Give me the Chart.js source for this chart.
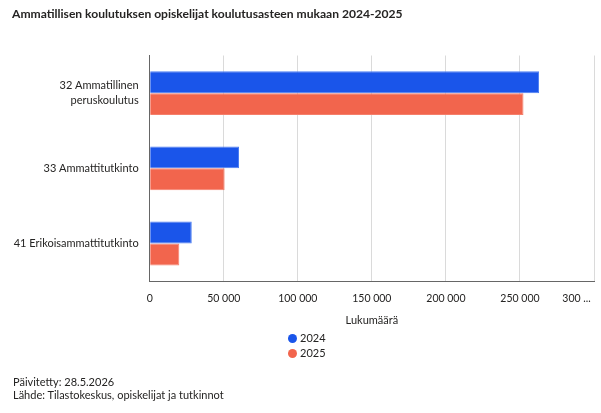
<!DOCTYPE html>
<html>
<head>
<meta charset="utf-8">
<script src="https://cdn.jsdelivr.net/npm/chart.js@4.4.1/dist/chart.umd.min.js"></script>
<style>
  html, body { margin: 0; padding: 0; background: #fff; }
  #wrap { position: relative; width: 601px; height: 413px; overflow: hidden; font-family: Lato, sans-serif; }
  canvas { position: absolute; left: 0; top: 0; }
  .leg { position: absolute; left: 288px; font-size: 11px; color: #252423; line-height: 14px; }
  .leg span.dot { display: inline-block; width: 9px; height: 9px; border-radius: 50%; vertical-align: -1px; margin-right: 3px; }
  #footer { position: absolute; left: 13px; top: 376px; font-size: 11px; color: #252423; line-height: 12.5px; }
</style>
</head>
<body>
<div id="wrap">
  <canvas id="c" width="601" height="413"></canvas>
  <div id="legend"></div>
  <div id="footer"></div>
</div>
<script>
const titleText = "Ammatillisen koulutuksen opiskelijat koulutusasteen mukaan 2024-2025";
const categories = [["32 Ammatillinen", "peruskoulutus"], "33 Ammattitutkinto", "41 Erikoisammattitutkinto"];
const seriesNames = ["2024", "2025"];
const values2024 = [262900, 60300, 28400];
const values2025 = [252400, 50600, 20000];
const xTickValues = [0, 50000, 100000, 150000, 200000, 250000, 300000];
const xTickLabels = ["0", "50 000", "100 000", "150 000", "200 000", "250 000", "300 ..."];
const xAxisTitle = "Lukumäärä";
const footerLines = ["Päivitetty: 28.5.2026", "Lähde: Tilastokeskus, opiskelijat ja tutkinnot"];

const colors = ["#1A55EA", "#F2654D"];
const borders = ["#4C7EF2", "#F57F6B"];
const FONT = 'Lato, sans-serif';

const chart = new Chart(document.getElementById('c'), {
  type: 'bar',
  data: {
    labels: categories,
    datasets: [
      { label: seriesNames[0], data: values2024, backgroundColor: colors[0], borderColor: borders[0], borderWidth: 1 },
      { label: seriesNames[1], data: values2025, backgroundColor: colors[1], borderColor: borders[1], borderWidth: 1 }
    ]
  },
  options: {
    indexAxis: 'y',
    responsive: false,
    animation: false,
    devicePixelRatio: 1,
    layout: { padding: { left: 12, right: 7, top: 0, bottom: 86 } },
    datasets: { bar: { categoryPercentage: 0.584, barPercentage: 1.0 } },
    plugins: {
      legend: { display: false },
      tooltip: { enabled: false },
      title: {
        display: true, text: titleText, align: 'start', color: '#252423',
        font: { family: FONT, size: 12.1, weight: 'bold' },
        padding: { top: 7, bottom: 34 }
      }
    },
    scales: {
      x: {
        min: 0, max: 300000,
        afterBuildTicks: (s) => { s.ticks = xTickValues.map(v => ({ value: v })); },
        afterFit: (s) => { s.paddingRight = 0; s.paddingLeft = 0; },
        ticks: {
          color: '#252423', padding: 11, maxRotation: 0, autoSkip: false,
          font: { family: FONT, size: 10.5 },
          callback: (v) => {
            const idx = xTickValues.indexOf(v);
            const t = idx >= 0 ? xTickLabels[idx] : '';
            return idx === xTickValues.length - 1 ? t + '\u00a0'.repeat(13) : t;
          }
        },
        grid: { color: '#DADADA', lineWidth: 1, drawTicks: false },
        border: { display: true, color: '#666666', width: 1 },
        title: { display: true, text: xAxisTitle, color: '#252423', font: { family: FONT, size: 11 }, padding: { top: -2, bottom: 0 } }
      },
      y: {
        afterFit: (s) => { s.width = 137.7; },
        ticks: { color: '#252423', padding: 11, font: { family: FONT, size: 11, lineHeight: 1.33 } },
        grid: { display: false, drawTicks: false },
        border: { display: true, color: '#666666', width: 1 }
      }
    }
  }
});

const legendEl = document.getElementById('legend');
chart.data.datasets.forEach((ds, i) => {
  const d = document.createElement('div');
  d.className = 'leg';
  d.style.top = (331 + i * 14.6) + 'px';
  d.innerHTML = '<span class="dot" style="background:' + ds.backgroundColor + '"></span>' + ds.label;
  legendEl.appendChild(d);
});
document.getElementById('footer').innerHTML = footerLines.join('<br>');
</script>
</body>
</html>
